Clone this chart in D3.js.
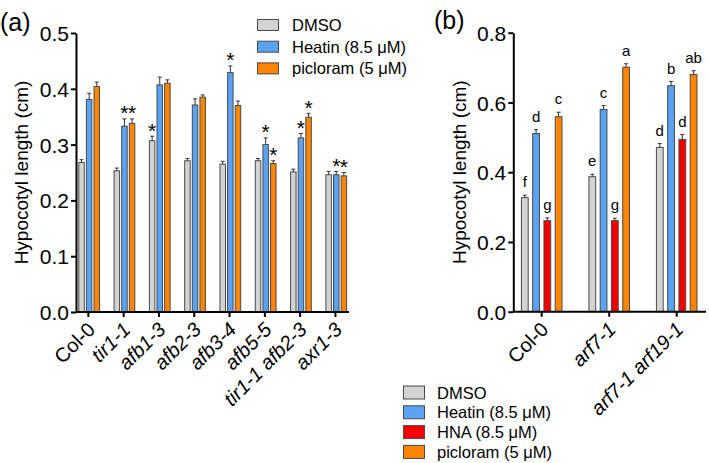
<!DOCTYPE html>
<html><head><meta charset="utf-8">
<script src="https://cdn.jsdelivr.net/npm/d3@7"></script>
<style>
body{margin:0;background:#fff;}
svg{display:block;font-family:"Liberation Sans",Arial,sans-serif;}
</style></head>
<body><svg id="c" width="709" height="463"></svg>
<script>
// ---------- Data: panel (a) ----------
const catsA = ["Col-0","tir1-1","afb1-3","afb2-3","afb3-4","afb5-5","tir1-1 afb2-3","axr1-3"];
const italicA = [false,true,true,true,true,true,true,true];
const seriesA = ["DMSO","Heatin (8.5 μM)","picloram (5 μM)"];
const dmsoA   = [0.268,0.253,0.307,0.271,0.265,0.271,0.251,0.246];
const heatinA = [0.381,0.333,0.407,0.371,0.429,0.300,0.312,0.246];
const picA    = [0.404,0.338,0.410,0.385,0.370,0.266,0.349,0.244];
const dmsoErrA   = [0.005,0.005,0.008,0.004,0.005,0.004,0.005,0.006];
const heatinErrA = [0.011,0.013,0.014,0.011,0.012,0.012,0.008,0.006];
const picErrA    = [0.008,0.008,0.006,0.004,0.008,0.005,0.007,0.006];
// significance stars: [category index, series index]
const starsA = [[1,1],[1,2],[2,0],[4,1],[5,1],[5,2],[6,1],[6,2],[7,1],[7,2]];
const ticksA = [0.0,0.1,0.2,0.3,0.4,0.5];

// ---------- Data: panel (b) ----------
const catsB = ["Col-0","arf7-1","arf7-1 arf19-1"];
const italicB = [false,true,true];
const seriesB = ["DMSO","Heatin (8.5 μM)","HNA (8.5 μM)","picloram (5 μM)"];
const dmsoB   = [0.327,0.387,0.471];
const heatinB = [0.511,0.580,0.648];
const hnaB    = [0.261,0.261,0.494];
const picB    = [0.559,0.701,0.680];
const dmsoErrB   = [0.007,0.007,0.011];
const heatinErrB = [0.011,0.011,0.012];
const hnaErrB    = [0.008,0.007,0.014];
const picErrB    = [0.013,0.010,0.011];
const lettersB = [["f","d","g","c"],["e","c","g","a"],["d","b","d","ab"]];
const ticksB = [0.0,0.2,0.4,0.6,0.8];

const colors = {"DMSO":"#d3d3d3","Heatin (8.5 μM)":"#5aa3f4","HNA (8.5 μM)":"#f50000","picloram (5 μM)":"#ff8400"};
const FONT = '"Liberation Sans",Arial,sans-serif';

const svg = d3.select("#c");

function panel(opt){
  const g = svg.append("g");
  const y = d3.scaleLinear().domain([0,opt.ymax]).range([opt.y0, opt.ytop]);
  const x0 = d3.scaleBand().domain(opt.cats).range(opt.xrange).paddingInner(0).paddingOuter(0);
  const x1 = d3.scaleBand().domain(opt.series).range([0, opt.groupW]).padding(opt.barPad);
  const bx = (ci, s) => x0(opt.cats[ci]) + x0.bandwidth()/2 - opt.groupW/2 + opt.shift + x1(s);

  // bars
  opt.series.forEach((s, si) => {
    const vals = opt.values[si], errs = opt.errs[si];
    const gs = g.append("g");
    gs.selectAll("rect").data(vals).join("rect")
      .attr("x", (d,i) => bx(i,s))
      .attr("y", d => y(d))
      .attr("width", x1.bandwidth())
      .attr("height", d => y(0) - y(d))
      .attr("fill", colors[s]).attr("stroke", "#4a4a4a").attr("stroke-width", 1);
    gs.selectAll("line.e").data(vals).join("line").attr("class","e")
      .attr("x1", (d,i) => bx(i,s) + x1.bandwidth()/2)
      .attr("x2", (d,i) => bx(i,s) + x1.bandwidth()/2)
      .attr("y1", d => y(d)).attr("y2", (d,i) => y(d + errs[i]))
      .attr("stroke", "#333").attr("stroke-width", 1);
    gs.selectAll("line.c").data(vals).join("line").attr("class","c")
      .attr("x1", (d,i) => bx(i,s) + x1.bandwidth()/2 - 2)
      .attr("x2", (d,i) => bx(i,s) + x1.bandwidth()/2 + 2)
      .attr("y1", (d,i) => y(d + errs[i])).attr("y2", (d,i) => y(d + errs[i]))
      .attr("stroke", "#333").attr("stroke-width", 1);
  });

  // y axis
  const ya = g.append("g").attr("transform", `translate(${opt.axisX},0)`)
    .call(d3.axisLeft(y).tickValues(opt.ticks).tickFormat(d3.format(".1f")).tickSize(5).tickSizeOuter(0));
  ya.select(".domain").attr("stroke","#000").attr("stroke-width",2);
  ya.selectAll(".tick line").attr("stroke","#000").attr("stroke-width",2);
  ya.selectAll(".tick text").attr("font-size", 21).attr("font-family", FONT).attr("fill","#000").attr("x",-7).attr("dy","0.36em");

  // x axis
  const xa = g.append("g").attr("transform", `translate(0,${opt.y0})`)
    .call(d3.axisBottom(x0).tickSize(5).tickSizeOuter(0).tickFormat(""));
  xa.select(".domain").attr("d", `M${opt.axisX},0H${opt.axisEnd}`).attr("stroke","#000").attr("stroke-width",2);
  xa.selectAll(".tick line").attr("stroke","#000").attr("stroke-width",2);
  opt.cats.forEach((c, i) => {
    const tx = x0(c) + x0.bandwidth()/2;
    g.append("text")
      .attr("transform", `translate(${tx + opt.labDx},${opt.y0 + opt.labDy}) rotate(-45)`)
      .attr("text-anchor","end").attr("font-size", opt.labSize).attr("font-family", FONT)
      .attr("font-style", opt.italic[i] ? "italic" : "normal").text(c);
  });

  // y label
  g.append("text")
    .attr("transform", `translate(${opt.ylabX},${(opt.y0+opt.ytop)/2 + opt.ylabDy}) rotate(-90)`)
    .attr("text-anchor","middle").attr("font-size", 19).attr("font-family", FONT).text("Hypocotyl length (cm)");

  return {g, y, x1, bx};
}

// ---- Panel (a) ----
const A = panel({
  cats: catsA, italic: italicA, series: seriesA,
  values: [dmsoA, heatinA, picA], errs: [dmsoErrA, heatinErrA, picErrA],
  ymax: 0.5, y0: 312, ytop: 33, ticks: ticksA,
  xrange: [70.7, 353.1], groupW: 25, barPad: 0.28, shift: 0.8,
  axisX: 76, axisEnd: 349,
  labDx: 8, labDy: 19, labSize: 20,
  ylabX: 28, ylabDy: 0
});
const errsA = [dmsoErrA, heatinErrA, picErrA], valsA = [dmsoA, heatinA, picA];
A.g.selectAll("text.star").data(starsA).join("text").attr("class","star")
  .attr("x", d => A.bx(d[0], seriesA[d[1]]) + A.x1.bandwidth()/2)
  .attr("y", d => A.y(valsA[d[1]][d[0]] + errsA[d[1]][d[0]]) + 1.5)
  .attr("text-anchor","middle").attr("font-size", 21).attr("font-family", FONT).text("*");

// legend (a)
const legA = svg.append("g");
seriesA.forEach((s, i) => {
  const cy = 25 + i*21.7;
  legA.append("rect").attr("x",257.5).attr("y",cy-5.5).attr("width",21).attr("height",11)
    .attr("fill",colors[s]).attr("stroke","#4a4a4a").attr("stroke-width",1);
  legA.append("text").attr("x",292).attr("y",cy+6).attr("font-size",16.5).attr("font-family",FONT).text(s);
});

// ---- Panel (b) ----
const B = panel({
  cats: catsB, italic: italicB, series: seriesB,
  values: [dmsoB, heatinB, hnaB, picB], errs: [dmsoErrB, heatinErrB, hnaErrB, picErrB],
  ymax: 0.8, y0: 311.7, ytop: 32.7, ticks: ticksB,
  xrange: [507.95, 710.45], groupW: 49.6, barPad: 0.4, shift: 0,
  axisX: 513.3, axisEnd: 706,
  labDx: 8, labDy: 19, labSize: 20,
  ylabX: 466, ylabDy: 0
});
const valsB = [dmsoB, heatinB, hnaB, picB], errsB = [dmsoErrB, heatinErrB, hnaErrB, picErrB];
const letterData = [];
lettersB.forEach((row, ci) => row.forEach((t, si) => letterData.push({ci, si, t})));
B.g.selectAll("text.let").data(letterData).join("text").attr("class","let")
  .attr("x", d => B.bx(d.ci, seriesB[d.si]) + B.x1.bandwidth()/2)
  .attr("y", d => B.y(valsB[d.si][d.ci] + errsB[d.si][d.ci]) - 8)
  .attr("text-anchor","middle").attr("font-size", 15).attr("font-family", FONT).text(d => d.t);

// legend (b)
const legB = svg.append("g");
seriesB.forEach((s, i) => {
  const cy = 392.5 + i*19.8;
  legB.append("rect").attr("x",403.5).attr("y",cy-6.5).attr("width",21).attr("height",13)
    .attr("fill",colors[s]).attr("stroke","#4a4a4a").attr("stroke-width",1);
  legB.append("text").attr("x",437).attr("y",cy+6).attr("font-size",16.5).attr("font-family",FONT).text(s);
});

// panel labels
svg.append("text").attr("x",0).attr("y",31).attr("font-size",25).attr("font-family",FONT).text("(a)");
svg.append("text").attr("x",434).attr("y",29).attr("font-size",25).attr("font-family",FONT).text("(b)");
</script>
</body></html>
